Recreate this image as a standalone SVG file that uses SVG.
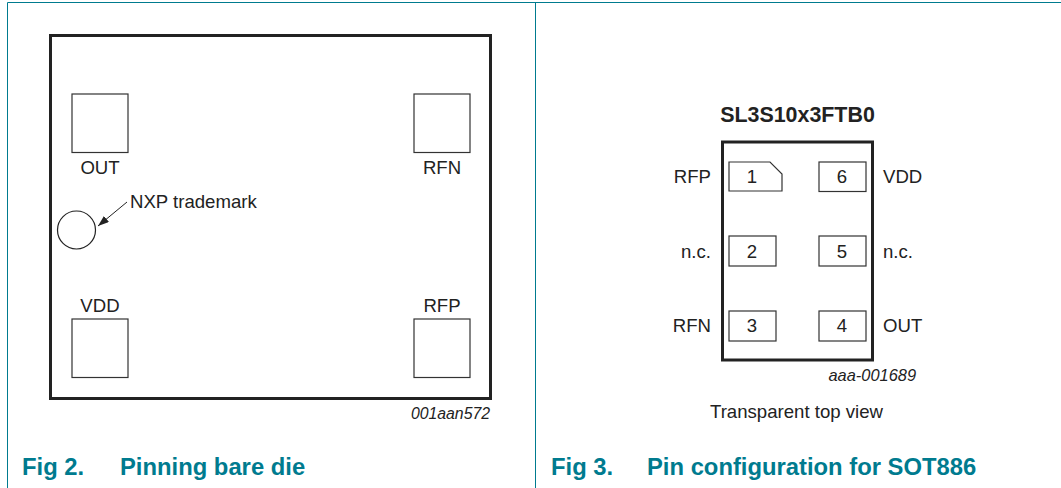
<svg xmlns="http://www.w3.org/2000/svg" width="1061" height="488" viewBox="0 0 1061 488">
<style>
text{font-family:"Liberation Sans",Arial,sans-serif;fill:#222}
.l{font-size:18.600px}
.m{font-size:18.600px;text-anchor:middle}
.i{font-size:15.800px;font-style:italic;text-anchor:end}
.t{font-size:23.800px;font-weight:bold;fill:#007b8f}
.f{fill:none;stroke:#007b8f;stroke-width:1}
.o{fill:#fff;stroke:#222;stroke-width:3}
.p{fill:#fff;stroke:#333;stroke-width:1.2}
</style>
<defs><marker id="a" markerUnits="userSpaceOnUse" markerWidth="12" markerHeight="10" refX="11" refY="4" orient="auto"><path d="M0 0L11 4L0 8Z" fill="#222"/></marker></defs>
<g id="frames">
<path class="f" d="M7.500 488V2.500H1061M535.500 2.500V488"/>
</g>
<g id="die">
<rect class="o" x="50.500" y="35.500" width="440" height="363"/>
</g>
<g id="pad-out"><rect class="p" x="72" y="94" width="56" height="58.500"/><text class="m" x="100" y="174">OUT</text></g>
<g id="pad-rfn"><rect class="p" x="414" y="94" width="56" height="58.500"/><text class="m" x="442" y="174">RFN</text></g>
<g id="pad-vdd"><rect class="p" x="72" y="319" width="56" height="58.500"/><text class="m" x="100" y="312">VDD</text></g>
<g id="pad-rfp"><rect class="p" x="414" y="319" width="56" height="58.500"/><text class="m" x="442" y="312">RFP</text></g>
<g id="trademark"><circle cx="76.500" cy="230" r="19" fill="#fff" stroke="#222" stroke-width="1.200"/><text class="l" x="130" y="208">NXP trademark</text></g>
<g id="connectors"><path d="M127 202L98 226" fill="none" stroke="#222" stroke-width="1" marker-end="url(#a)"/></g>
<text class="i" x="490" y="419">001aan572</text>
<text class="t" x="22" y="475" font-size="23">Fig 2.</text>
<text class="t" x="120" y="475">Pinning bare die</text>
<text x="797.500" y="122" font-size="21.400" font-weight="bold" text-anchor="middle">SL3S10x3FTB0</text>
<g id="package"><rect x="722.500" y="142" width="150" height="218" fill="#fff" stroke="#222" stroke-width="3"/></g>
<g id="pin-1"><path class="p" d="M729 162H770L782 174V191H729Z"/><text class="m" x="752" y="183">1</text><text class="l" x="711" y="183" text-anchor="end">RFP</text></g>
<g id="pin-6"><rect class="p" x="819" y="162" width="47" height="29.500"/><text class="m" x="842" y="183">6</text><text class="l" x="883" y="183">VDD</text></g>
<g id="pin-2"><rect class="p" x="729" y="236" width="47" height="30"/><text class="m" x="752" y="258">2</text><text class="l" x="711" y="258" text-anchor="end">n.c.</text></g>
<g id="pin-5"><rect class="p" x="819" y="236" width="47" height="30"/><text class="m" x="842" y="258">5</text><text class="l" x="883" y="258">n.c.</text></g>
<g id="pin-3"><rect class="p" x="729" y="311" width="47" height="30"/><text class="m" x="752" y="332">3</text><text class="l" x="711" y="332" text-anchor="end">RFN</text></g>
<g id="pin-4"><rect class="p" x="819" y="311" width="47" height="30"/><text class="m" x="842" y="332">4</text><text class="l" x="883" y="332">OUT</text></g>
<text class="i" x="916" y="381" style="font-size:16.400px">aaa-001689</text>
<text class="l" x="710" y="418">Transparent top view</text>
<text class="t" x="551" y="475">Fig 3.</text>
<text class="t" x="647" y="475">Pin configuration for SOT886</text>
</svg>
